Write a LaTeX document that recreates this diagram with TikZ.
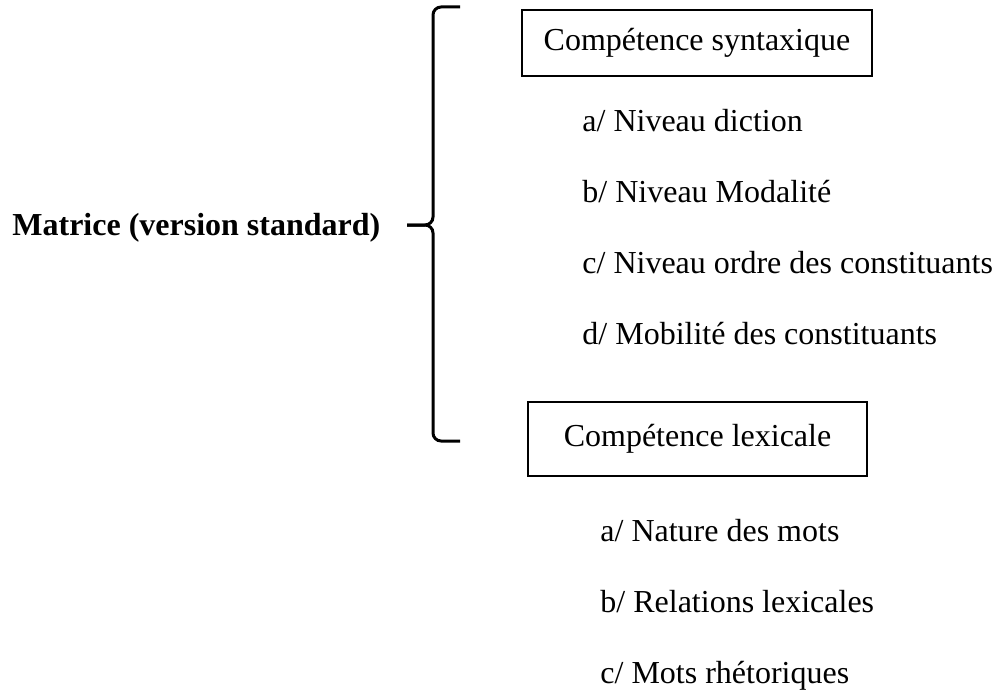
\documentclass[tikz,border=0pt]{standalone}
\usepackage{fontspec}
\setmainfont{Liberation Serif}
\usepackage{tikz}
\usetikzlibrary{positioning}

\begin{document}
\begin{tikzpicture}[x=0.5pt,y=-0.5pt,
  every node/.style={font=\fontsize{16}{19}\selectfont},
  comp_box/.style={draw,line width=1.25pt,inner sep=0pt},
  list_item/.style={anchor=base west,inner sep=0pt},
  title_node/.style={anchor=base west,inner sep=0pt,font=\fontsize{16}{19}\selectfont\bfseries}]

\useasboundingbox (0,0) rectangle (995,690);

\node[title_node] (mat) at (12,235) {Matrice (version standard)};

% the brace
\draw[line width=1.5pt,rounded corners=4pt] (460,7) -- (433,7) -- (433,225) -- (407,225);
\draw[line width=1.5pt,rounded corners=4pt] (460,441) -- (433,441) -- (433,225) -- (407,225);

\node[comp_box,minimum width=175pt,minimum height=33pt] (syn) at (697,43) {Compétence syntaxique};
\node[comp_box,minimum width=169.5pt,minimum height=37pt] (lex) at (697.5,439) {\raisebox{2pt}{Compétence lexicale}};

\foreach \y/\t in {132/{a/ Niveau diction},202/{b/ Niveau Modalité},273/{c/ Niveau ordre des constituants},344/{d/ Mobilité des constituants}}
  \node[list_item] at (582,\y) {\t};

\foreach \y/\t in {541/{a/ Nature des mots},612/{b/ Relations lexicales},683/{c/ Mots rhétoriques}}
  \node[list_item] at (600,\y) {\t};

\end{tikzpicture}
\end{document}
